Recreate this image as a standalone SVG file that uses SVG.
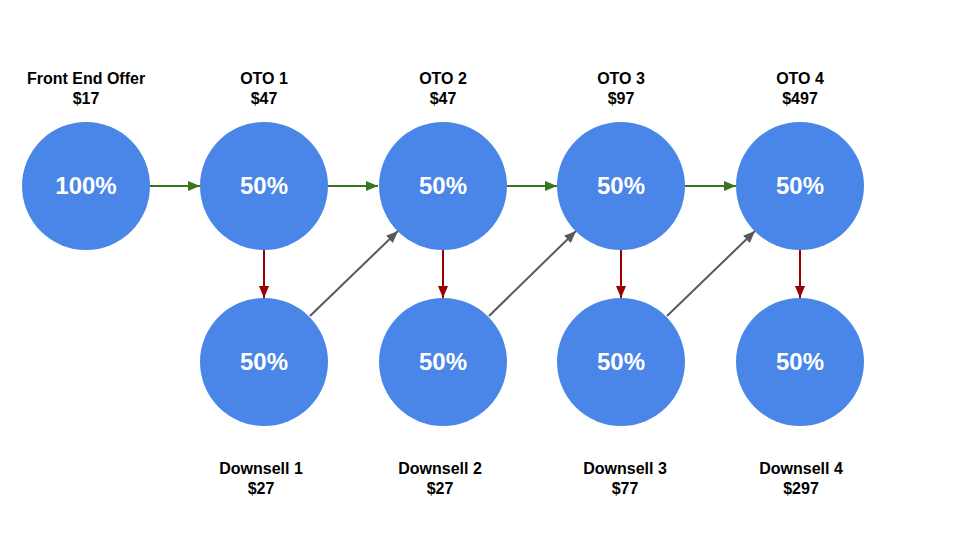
<svg xmlns="http://www.w3.org/2000/svg" width="960" height="540" viewBox="0 0 960 540">
<defs>
<style>
.c{fill:#4a86e8}
.p{font-family:"Liberation Sans",Arial,sans-serif;font-weight:bold;font-size:24px;fill:#fff;text-anchor:middle}
.l{font-family:"Liberation Sans",Arial,sans-serif;font-weight:bold;font-size:16px;fill:#000;text-anchor:middle}
.g{stroke:#38761d;stroke-width:2;fill:none}
.r{stroke:#990000;stroke-width:2;fill:none}
.k{stroke:#595959;stroke-width:2;fill:none}
</style>
<marker id="mg" viewBox="0 0 12 10" refX="12" refY="5" markerWidth="12" markerHeight="10" markerUnits="userSpaceOnUse" orient="auto"><path d="M0,0L12,5L0,10z" fill="#38761d"/></marker>
<marker id="mr" viewBox="0 0 12 10" refX="12" refY="5" markerWidth="12" markerHeight="10" markerUnits="userSpaceOnUse" orient="auto"><path d="M0,0L12,5L0,10z" fill="#990000"/></marker>
<marker id="mk" viewBox="0 0 12 10" refX="12" refY="5" markerWidth="12" markerHeight="10" markerUnits="userSpaceOnUse" orient="auto"><path d="M0,0L12,5L0,10z" fill="#595959"/></marker>
</defs>
<rect width="960" height="540" fill="#fff"/>
<g id="connectors">
<line class="g" x1="150" y1="186" x2="200" y2="186" marker-end="url(#mg)"/>
<line class="g" x1="328" y1="186" x2="378" y2="186" marker-end="url(#mg)"/>
<line class="g" x1="507" y1="186" x2="557" y2="186" marker-end="url(#mg)"/>
<line class="g" x1="685" y1="186" x2="736" y2="186" marker-end="url(#mg)"/>
<line class="r" x1="264" y1="250" x2="264" y2="298" marker-end="url(#mr)"/>
<line class="r" x1="443" y1="250" x2="443" y2="298" marker-end="url(#mr)"/>
<line class="r" x1="621" y1="250" x2="621" y2="298" marker-end="url(#mr)"/>
<line class="r" x1="800" y1="250" x2="800" y2="298" marker-end="url(#mr)"/>
<line class="k" x1="310" y1="316" x2="398" y2="231" marker-end="url(#mk)"/>
<line class="k" x1="489" y1="316" x2="576" y2="231" marker-end="url(#mk)"/>
<line class="k" x1="667" y1="316" x2="755" y2="231" marker-end="url(#mk)"/>
</g>
<g id="front"><text class="l" x="86" y="84">Front End Offer</text><text class="l" x="86" y="104">$17</text><circle class="c" cx="86" cy="186" r="64"/><text class="p" x="86" y="194">100%</text></g>
<g id="oto1"><text class="l" x="264" y="84">OTO 1</text><text class="l" x="264" y="104">$47</text><circle class="c" cx="264" cy="186" r="64"/><text class="p" x="264" y="194">50%</text></g>
<g id="oto2"><text class="l" x="443" y="84">OTO 2</text><text class="l" x="443" y="104">$47</text><circle class="c" cx="443" cy="186" r="64"/><text class="p" x="443" y="194">50%</text></g>
<g id="oto3"><text class="l" x="621" y="84">OTO 3</text><text class="l" x="621" y="104">$97</text><circle class="c" cx="621" cy="186" r="64"/><text class="p" x="621" y="194">50%</text></g>
<g id="oto4"><text class="l" x="800" y="84">OTO 4</text><text class="l" x="800" y="104">$497</text><circle class="c" cx="800" cy="186" r="64"/><text class="p" x="800" y="194">50%</text></g>
<g id="ds1"><circle class="c" cx="264" cy="362" r="64"/><text class="p" x="264" y="370">50%</text><text class="l" x="261" y="474">Downsell 1</text><text class="l" x="261" y="494">$27</text></g>
<g id="ds2"><circle class="c" cx="443" cy="362" r="64"/><text class="p" x="443" y="370">50%</text><text class="l" x="440" y="474">Downsell 2</text><text class="l" x="440" y="494">$27</text></g>
<g id="ds3"><circle class="c" cx="621" cy="362" r="64"/><text class="p" x="621" y="370">50%</text><text class="l" x="625" y="474">Downsell 3</text><text class="l" x="625" y="494">$77</text></g>
<g id="ds4"><circle class="c" cx="800" cy="362" r="64"/><text class="p" x="800" y="370">50%</text><text class="l" x="801" y="474">Downsell 4</text><text class="l" x="801" y="494">$297</text></g>
</svg>
